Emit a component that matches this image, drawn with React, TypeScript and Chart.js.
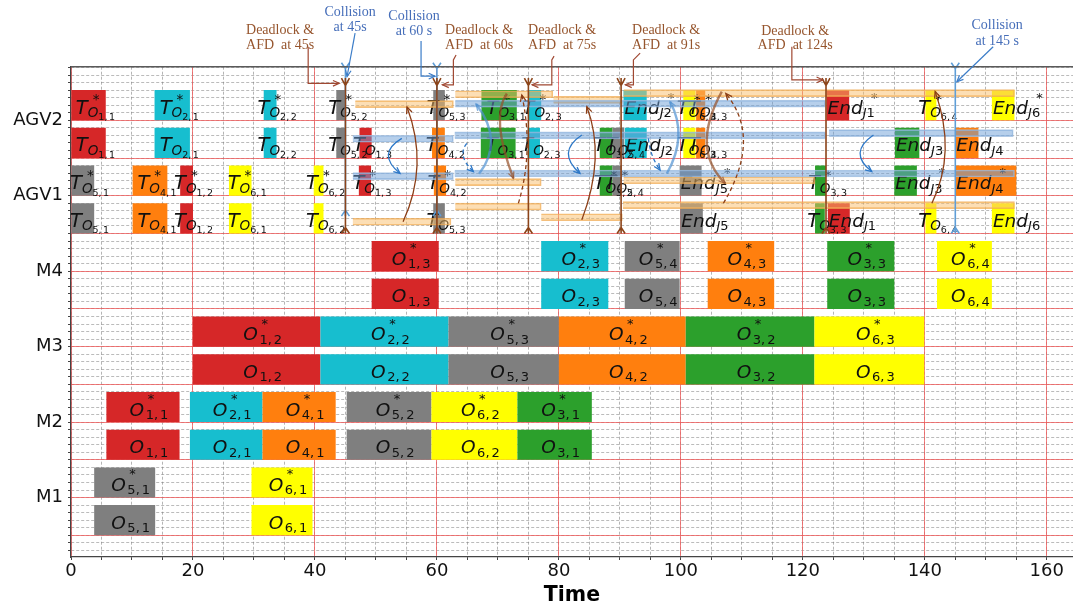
import React, { useEffect, useRef } from 'react';
import { Chart, registerables } from 'chart.js';

Chart.register(...registerables);

// ---------------- data ----------------
const jobColors = ['#d62728', '#17becf', '#2ca02c', '#ff7f0e', '#7f7f7f', '#ffff00'];
const rowLabelValues = [1, 3, 5, 7, 9, 11];
const rowLabelNames = ['M1', 'M2', 'M3', 'M4', 'AGV1', 'AGV2'];
const rowLineValues = [0, 1, 2, 3, 4, 5, 6, 7, 8, 9, 10, 11];
const timeTicks = [0, 20, 40, 60, 80, 100, 120, 140, 160];
const timeMax = 164.3;
const levelMin = -0.575;
const levelMax = 12.42;

// machine operations: [job, op, start, end]
const opsM1 = [[5, 1, 3.8, 13.8], [6, 1, 29.6, 39.6]];
const opsM2 = [[1, 1, 5.8, 17.8], [2, 1, 19.5, 31.4], [4, 1, 31.4, 43.4], [5, 2, 45.2, 59.1], [6, 2, 59.1, 73.2], [3, 1, 73.2, 85.4]];
const opsM3 = [[1, 2, 20, 40.9], [2, 2, 40.9, 61.9], [5, 3, 61.9, 80], [4, 2, 80, 100.8], [3, 2, 100.8, 121.9], [6, 3, 121.9, 139.9]];
const opsM4 = [[1, 3, 49.3, 60.3], [2, 3, 77.1, 88.1], [5, 4, 90.8, 99.8], [4, 3, 104.4, 115.3], [3, 3, 124, 135], [6, 4, 142, 151]];

// AGV tasks: [kind (T = transport, E = end), job, op, start, end]
const tasksAgv1 = [
  ['T', 5, 1, 0, 3.8], ['T', 4, 1, 10.1, 15.8], ['T', 1, 2, 17.9, 20], ['T', 6, 1, 25.9, 29.6], ['T', 6, 2, 39.8, 41.4],
  ['T', 5, 3, 59.4, 61.3], ['E', 5, 0, 99.9, 103.6], ['T', 3, 3, 122, 123.6], ['E', 1, 0, 124.1, 127.7],
  ['T', 6, 4, 140.1, 141.9], ['E', 6, 0, 151, 154.7],
];
const tasksAgv1Star = [
  ['T', 5, 1, 0, 3.8], ['T', 4, 1, 10.1, 15.8], ['T', 1, 2, 17.9, 20], ['T', 6, 1, 25.9, 29.6], ['T', 6, 2, 39.8, 41.4],
  ['T', 1, 3, 47.2, 49.2], ['T', 4, 2, 59.5, 61.5], ['T', 3, 2, 86.7, 88.8], ['T', 5, 4, 88.8, 90.3],
  ['E', 5, 0, 99.8, 103.4], ['T', 3, 3, 122, 123.8], ['E', 3, 0, 135, 138.7], ['E', 4, 0, 145, 155],
];
const tasksAgv2 = [
  ['T', 1, 1, 0, 5.7], ['T', 2, 1, 13.7, 19.5], ['T', 2, 2, 31.6, 33.7], ['T', 5, 2, 43.5, 45], ['T', 1, 3, 47.3, 49.3],
  ['T', 4, 2, 59.2, 61.3], ['T', 3, 1, 67.2, 72.9], ['T', 2, 3, 74.9, 76.9], ['T', 3, 2, 86.7, 88.8], ['T', 5, 4, 88.8, 90.7],
  ['E', 2, 0, 90.8, 94.4], ['T', 6, 3, 100.4, 102.4], ['T', 4, 3, 102.5, 104], ['E', 3, 0, 135.1, 139.1], ['E', 4, 0, 145, 148.8],
];
const tasksAgv2Star = [
  ['T', 1, 1, 0, 5.7], ['T', 2, 1, 13.7, 19.5], ['T', 2, 2, 31.6, 33.7], ['T', 5, 2, 43.5, 45], ['T', 5, 3, 59.4, 61.3],
  ['T', 3, 1, 67.3, 73.1], ['T', 2, 3, 75.1, 77.1], ['E', 2, 0, 90.6, 94.4], ['T', 6, 3, 100.4, 102.4], ['T', 4, 3, 102.5, 104],
  ['E', 1, 0, 123.9, 127.6], ['T', 6, 4, 140.1, 141.9], ['E', 6, 0, 151, 154.7],
];

// re-planned AGV paths (thin translucent bars): [start, end, level]
const replanOrange = [
  [46.6, 62.7, 11.43], [63, 79, 11.69], [79.1, 90.4, 11.54], [90.6, 154.7, 11.72],
  [63, 77.1, 9.36], [90.6, 122, 9.41],
  [46.2, 62.3, 8.31], [63, 77.1, 8.71], [77.1, 90.4, 8.43], [90.5, 154.7, 8.75],
];
const replanBlue = [
  [63, 123.7, 11.44],
  [46.2, 62.7, 10.51], [62.9, 123.7, 10.6], [124.3, 154.5, 10.66],
  [46.2, 62.7, 9.52], [62.9, 154.7, 9.59],
];

// event markers
const deadlockTimes = [45, 60, 75, 90.2, 123.8];
const collisionTimes = [45, 60, 145];
const collisionBottoms = [8.46, 8.46, 8.0];

// annotations: [x, yLine1, yLine2, line1, line2]
const deadlockNotes = [
  [34.28, 13.39, 12.99, 'Deadlock &', 'AFD  at 45s'],
  [66.91, 13.39, 12.99, 'Deadlock &', 'AFD  at 60s'],
  [80.53, 13.39, 12.99, 'Deadlock &', 'AFD  at 75s'],
  [97.58, 13.39, 12.99, 'Deadlock &', 'AFD  at 91s'],
  [118.74, 13.37, 12.99, 'Deadlock &', 'AFD  at 124s'],
];
const collisionNotes = [
  [45.76, 13.87, 13.47, 'Collision', 'at 45s'],
  [56.25, 13.76, 13.37, 'Collision', 'at 60 s'],
  [151.87, 13.52, 13.1, 'Collision', 'at 145 s'],
];
const deadlockLeaders = [
  [[38.89, 12.95], [38.89, 11.98], [44.0, 11.98]],
  [[63.14, 12.73], [62.7, 12.6], [62.7, 11.94], [60.9, 11.94]],
  [[79.21, 12.7], [78.84, 12.6], [78.84, 11.94], [75.6, 11.94]],
  [[93.32, 12.78], [92.22, 12.6], [92.22, 11.94], [90.9, 11.94]],
  [[118.2, 12.95], [118.2, 12.07], [123.3, 12.07]],
];
const collisionLeaders = [
  [[46.58, 13.31], [45.27, 12.16]],
  [[57.4, 13.1], [57.4, 12.17], [59.7, 12.17]],
  [[151.21, 12.95], [145.26, 12.02]],
];

// curved arrows: [x0, y0, cx, cy, x1, y1, dashed, heavy]
const brownArcs = [
  [54.45, 8.31, 58.71, 9.8, 55.1, 11.35, 0, 0],
  [71.46, 11.71, 68.72, 11.07, 72.55, 9.46, 0, 1],
  [73.36, 8.8, 75.93, 10.19, 73.92, 11.67, 1, 0],
  [83.76, 8.36, 87.71, 10.04, 84.58, 11.36, 0, 0],
  [106.71, 11.76, 101.53, 10.24, 107.27, 9.33, 0, 1],
  [106.98, 8.8, 113.34, 10.54, 107.37, 11.71, 1, 0],
  [141.16, 8.8, 145.25, 10.15, 141.7, 11.76, 0, 0],
];
const blueArcs = [
  [54.24, 10.52, 49.98, 10.11, 53.96, 9.59, 0, 0],
  [64.9, 10.39, 63.24, 10.06, 65.98, 9.64, 1, 0],
  [66.92, 9.58, 71.09, 10.45, 66.42, 11.43, 0, 1],
  [83.76, 10.61, 79.5, 10.15, 83.47, 9.59, 0, 0],
  [94.68, 10.52, 94.93, 10.06, 96.6, 9.68, 1, 0],
  [97.7, 9.59, 101.23, 10.59, 98.24, 11.49, 0, 1],
  [131.58, 10.61, 127.35, 10.14, 131.3, 9.64, 0, 0],
];

// ---------------- build bars ----------------
const machineRows = [
  { level: 0, star: false, ops: opsM1 }, { level: 1, star: true, ops: opsM1 },
  { level: 2, star: false, ops: opsM2 }, { level: 3, star: true, ops: opsM2 },
  { level: 4, star: false, ops: opsM3 }, { level: 5, star: true, ops: opsM3 },
  { level: 6, star: false, ops: opsM4 }, { level: 7, star: true, ops: opsM4 },
];
const agvRows = [
  { level: 8, star: false, tasks: tasksAgv1 }, { level: 9, star: true, tasks: tasksAgv1Star },
  { level: 10, star: false, tasks: tasksAgv2 }, { level: 11, star: true, tasks: tasksAgv2Star },
];

const bars: any[] = [];
machineRows.forEach((r) => r.ops.forEach((o: any) => bars.push({ kind: 'O', job: o[0], op: o[1], start: o[2], end: o[3], level: r.level, star: r.star })));
agvRows.forEach((r) => r.tasks.forEach((t: any) => bars.push({ kind: t[0], job: t[1], op: t[2], start: t[3], end: t[4], level: r.level, star: r.star })));

const BAR_FRACTION = 0.8;

// ---------------- drawing helpers ----------------
const FAM = '"DejaVu Sans"';
function fontOf(p: any) {
  return `${p.it ? 'italic ' : ''}${p.s}px ${FAM}`;
}
function widthOf(ctx: any, pieces: any[]) {
  let w = 0;
  pieces.forEach((p) => {
    ctx.font = fontOf(p);
    w += ctx.measureText(p.t).width + (p.gap || 0);
  });
  return w;
}
function drawPieces(ctx: any, x: number, y: number, pieces: any[]) {
  let cx = x;
  const marks: number[] = [];
  pieces.forEach((p) => {
    marks.push(cx);
    ctx.font = fontOf(p);
    ctx.fillText(p.t, cx, y + (p.dy || 0));
    cx += ctx.measureText(p.t).width + (p.gap || 0);
  });
  marks.push(cx);
  return marks;
}
function arrowHead(ctx: any, x: number, y: number, ang: number, size: number) {
  ctx.beginPath();
  ctx.moveTo(x - size * Math.cos(ang - 0.42), y - size * Math.sin(ang - 0.42));
  ctx.lineTo(x, y);
  ctx.lineTo(x - size * Math.cos(ang + 0.42), y - size * Math.sin(ang + 0.42));
  ctx.stroke();
}

const decorPlugin = {
  id: 'decor',
  afterDatasetDraw(chart: any, args: any) {
    if (args.index !== 0) return;
    const ctx = chart.ctx;
    const xs = chart.scales.x;
    const ys = chart.scales.y;
    ctx.save();
    ctx.textBaseline = 'alphabetic';
    ctx.textAlign = 'left';
    ctx.fillStyle = '#111';
    bars.forEach((b) => {
      const x0 = xs.getPixelForValue(b.start);
      const x1 = xs.getPixelForValue(b.end);
      const cx = (x0 + x1) / 2;
      const cy = ys.getPixelForValue(b.level + BAR_FRACTION / 2);
      if (b.kind === 'O') {
        const pieces = [
          { t: 'O', s: 18.5, it: true, gap: 1.5 },
          { t: `${b.job},`, s: 13, dy: 3.5, gap: 2 },
          { t: `${b.op}`, s: 13, dy: 3.5 },
        ];
        const w = widthOf(ctx, pieces);
        const base = cy + 8.5;
        const m = drawPieces(ctx, cx + 6 - w / 2, base, pieces);
        if (b.star) {
          ctx.font = `13px ${FAM}`;
          ctx.fillText('*', m[1] + 2, base - 12.5);
        }
      } else if (b.kind === 'T') {
        const pieces = [
          { t: 'T', s: 19.5, it: true },
          { t: 'O', s: 13.5, it: true, dy: 3.5 },
          { t: `${b.job},`, s: 9.5, dy: 6.5, gap: 1.5 },
          { t: `${b.op}`, s: 9.5, dy: 6.5 },
        ];
        const w = widthOf(ctx, pieces);
        const base = cy + 8.5;
        const m = drawPieces(ctx, cx + 7 - w / 2, base, pieces);
        if (b.star) {
          ctx.font = `13.5px ${FAM}`;
          ctx.fillText('*', m[1] + 5, base - 9.5);
        }
      } else {
        const pieces = [
          { t: 'End', s: 18.5, it: true },
          { t: 'J', s: 13, it: true, dy: 3.5 },
          { t: `${b.job}`, s: 13, dy: 3.5 },
        ];
        const base = cy + 8.5;
        const m = drawPieces(ctx, x0 + 1, base, pieces);
        if (b.star) {
          ctx.font = `13px ${FAM}`;
          ctx.fillText('*', m[3] - 4, base - 12);
        }
      }
    });
    ctx.restore();
  },
  afterDatasetsDraw(chart: any) {
    const ctx = chart.ctx;
    const xs = chart.scales.x;
    const ys = chart.scales.y;
    const px = (v: number) => xs.getPixelForValue(v);
    const py = (v: number) => ys.getPixelForValue(v);
    ctx.save();
    const drawArc = (a: any[], color: string, heavyColor: string) => {
      const [x0, y0, cx, cy, x1, y1, dashed, heavy] = a;
      const P0 = [px(x0), py(y0)], C = [px(cx), py(cy)], P1 = [px(x1), py(y1)];
      ctx.strokeStyle = heavy ? heavyColor : color;
      ctx.lineWidth = heavy ? 2.4 : 1.3;
      ctx.setLineDash(dashed ? [4, 3] : []);
      ctx.beginPath();
      ctx.moveTo(P0[0], P0[1]);
      ctx.quadraticCurveTo(C[0], C[1], P1[0], P1[1]);
      ctx.stroke();
      ctx.setLineDash([]);
      ctx.lineWidth = 1.3;
      const ang = Math.atan2(P1[1] - C[1], P1[0] - C[0]);
      arrowHead(ctx, P1[0], P1[1], ang, 7);
    };
    brownArcs.forEach((a) => drawArc(a, 'rgb(140,62,22)', 'rgba(150,80,40,0.7)'));
    blueArcs.forEach((a) => drawArc(a, 'rgb(45,120,200)', 'rgba(80,145,210,0.7)'));

    ctx.setLineDash([]);
    ctx.lineWidth = 1.6;
    ctx.strokeStyle = 'rgb(95,158,215)';
    collisionTimes.forEach((t, i) => {
      const x = px(t);
      const yTop = py(levelMax);
      const yJ = py(12.37);
      const yB = py(collisionBottoms[i]);
      ctx.beginPath();
      ctx.moveTo(x, yTop); ctx.lineTo(x, yB);
      ctx.moveTo(x - 4, yTop - 4); ctx.lineTo(x, yJ); ctx.lineTo(x + 4, yTop - 4);
      ctx.moveTo(x - 4, yB); ctx.lineTo(x, yB - 6); ctx.lineTo(x + 4, yB);
      ctx.stroke();
    });
    ctx.strokeStyle = 'rgb(140,68,25)';
    deadlockTimes.forEach((t) => {
      const x = px(t);
      const yTop = py(12.12);
      const yJ = py(11.92);
      const yB = py(8.0);
      ctx.beginPath();
      ctx.moveTo(x, yTop); ctx.lineTo(x, yB);
      ctx.moveTo(x - 4, yTop); ctx.lineTo(x, yJ); ctx.lineTo(x + 4, yTop);
      ctx.moveTo(x - 4, yB); ctx.lineTo(x, yB - 6); ctx.lineTo(x + 4, yB);
      ctx.stroke();
    });
    ctx.restore();
  },
  afterDraw(chart: any) {
    const ctx = chart.ctx;
    const xs = chart.scales.x;
    const ys = chart.scales.y;
    const px = (v: number) => xs.getPixelForValue(v);
    const py = (v: number) => ys.getPixelForValue(v);
    const area = chart.chartArea;
    ctx.save();
    ctx.strokeStyle = '#5a5a5a';
    ctx.lineWidth = 1.5;
    ctx.beginPath();
    ctx.moveTo(area.left, area.top);
    ctx.lineTo(area.right, area.top);
    ctx.stroke();

    const drawLeader = (pts: any[], color: string) => {
      ctx.strokeStyle = color;
      ctx.lineWidth = 1.2;
      ctx.beginPath();
      pts.forEach((p: any, i: number) => {
        if (i === 0) ctx.moveTo(px(p[0]), py(p[1]));
        else ctx.lineTo(px(p[0]), py(p[1]));
      });
      ctx.stroke();
      const a = pts[pts.length - 2];
      const b = pts[pts.length - 1];
      const ang = Math.atan2(py(b[1]) - py(a[1]), px(b[0]) - px(a[0]));
      arrowHead(ctx, px(b[0]), py(b[1]), ang, 7);
    };
    deadlockLeaders.forEach((l) => drawLeader(l, 'rgb(160,72,50)'));
    collisionLeaders.forEach((l) => drawLeader(l, 'rgb(60,125,200)'));

    ctx.textAlign = 'center';
    ctx.textBaseline = 'middle';
    ctx.font = '14px "Liberation Serif"';
    ctx.fillStyle = 'rgb(150,85,45)';
    deadlockNotes.forEach((n: any) => {
      ctx.fillText(n[3], px(n[0]), py(n[1]));
      ctx.fillText(n[4], px(n[0]), py(n[2]));
    });
    ctx.fillStyle = 'rgb(70,110,185)';
    collisionNotes.forEach((n: any) => {
      ctx.fillText(n[3], px(n[0]), py(n[1]));
      ctx.fillText(n[4], px(n[0]), py(n[2]));
    });
    ctx.restore();
  },
};

// ---------------- component ----------------
export default function App() {
  const ref = useRef<HTMLCanvasElement>(null);
  useEffect(() => {
    const minorX: number[] = [];
    for (let v = 0; v <= 160; v += 5) minorX.push(v);
    const minorY: number[] = [];
    for (let k = -2; k <= 62; k++) minorY.push(Math.round(k * 0.2 * 100) / 100);

    const mainData = bars.map((b) => ({ x: [b.start, b.end], y: b.level + BAR_FRACTION / 2 }));
    const mainColors = bars.map((b) => jobColors[b.job - 1]);

    const yCommon = { type: 'linear', min: levelMin, max: levelMax, bounds: 'data', offset: false };

    const chart = new Chart(ref.current as HTMLCanvasElement, {
      type: 'bar',
      data: {
        datasets: [
          {
            label: 'schedule',
            data: mainData as any,
            backgroundColor: mainColors,
            borderWidth: 0,
            categoryPercentage: 1,
            barPercentage: BAR_FRACTION,
            grouped: false,
            xAxisID: 'x',
            yAxisID: 'y',
            order: 2,
          },
          {
            label: 'replan-orange',
            data: replanOrange.map((r) => ({ x: [r[0], r[1]], y: r[2] })) as any,
            backgroundColor: 'rgba(250,190,105,0.5)',
            borderColor: 'rgba(240,170,80,0.75)',
            borderWidth: 1,
            barThickness: 7,
            grouped: false,
            xAxisID: 'x',
            yAxisID: 'yo',
            order: 1,
          },
          {
            label: 'replan-blue',
            data: replanBlue.map((r) => ({ x: [r[0], r[1]], y: r[2] })) as any,
            backgroundColor: 'rgba(110,160,215,0.5)',
            borderColor: 'rgba(160,190,225,0.8)',
            borderWidth: 1,
            barThickness: 7,
            grouped: false,
            xAxisID: 'x',
            yAxisID: 'yo',
            order: 0,
          },
        ],
      },
      options: {
        indexAxis: 'y',
        animation: false,
        responsive: false,
        layout: { padding: { top: 66.7, left: 0, right: 0, bottom: 0 } },
        plugins: { legend: { display: false }, tooltip: { enabled: false } },
        scales: {
          xg: {
            type: 'linear', axis: 'x', position: 'bottom', weight: 0, min: 0, max: timeMax, bounds: 'data',
            afterBuildTicks: (s: any) => { s.ticks = minorX.map((v) => ({ value: v })); },
            afterFit: (s: any) => { s.height = 3; },
            ticks: { display: false },
            grid: { color: 'rgba(120,120,120,0.55)', lineWidth: 1, drawTicks: true, tickLength: 3, tickColor: '#444', offset: false },
            border: { display: true, color: '#444', width: 1.2, dash: [3, 2] },
          },
          yg: {
            ...yCommon, axis: 'y', position: 'left', weight: 0,
            afterBuildTicks: (s: any) => { s.ticks = minorY.map((v) => ({ value: v })); },
            afterFit: (s: any) => { s.width = 3; },
            ticks: { display: false },
            grid: { color: 'rgba(120,120,120,0.5)', lineWidth: 1, drawTicks: true, tickLength: 3, tickColor: '#444', offset: false },
            border: { display: true, color: '#444', width: 1.2, dash: [3, 2] },
          },
          x: {
            type: 'linear', axis: 'x', position: 'bottom', weight: 1, min: 0, max: timeMax, bounds: 'data',
            afterBuildTicks: (s: any) => { s.ticks = timeTicks.map((v) => ({ value: v })); },
            afterFit: (s: any) => { s.height = 48; },
            ticks: {
              autoSkip: false, maxRotation: 0, padding: 1, color: '#111',
              font: { family: 'DejaVu Sans', size: 18 },
              callback: (v: any) => String(v),
            },
            grid: { color: 'rgba(240,85,85,0.75)', lineWidth: 1, drawTicks: false, offset: false },
            border: { display: false },
            title: {
              display: true, text: 'Time', color: '#000',
              font: { family: 'DejaVu Sans', size: 20.5, weight: 'bold' },
              padding: { top: 0, bottom: 0 },
            },
          },
          y: {
            ...yCommon, axis: 'y', position: 'left', weight: 1,
            afterBuildTicks: (s: any) => { s.ticks = rowLineValues.map((v) => ({ value: v })); },
            afterFit: (s: any) => { s.width = 68; },
            ticks: {
              autoSkip: false, padding: 5, color: '#111',
              font: { family: 'DejaVu Sans', size: 18 },
              callback: (v: any) => {
                const i = rowLabelValues.indexOf(v);
                return i >= 0 ? rowLabelNames[i] : '';
              },
            },
            grid: { color: 'rgba(240,85,85,0.75)', lineWidth: 1, drawTicks: false, offset: false },
            border: { display: false },
          },
          yo: {
            ...yCommon, axis: 'y', position: 'left', display: false, grid: { offset: false },
          },
        },
      } as any,
      plugins: [decorPlugin as any],
    });
    return () => chart.destroy();
  }, []);

  return (
    <div style={{ position: 'fixed', left: 0, top: 0, width: 1073, height: 608, background: '#fff' }}>
      <canvas ref={ref} width={1073} height={608} style={{ display: 'block', width: 1073, height: 608 }} />
    </div>
  );
}
